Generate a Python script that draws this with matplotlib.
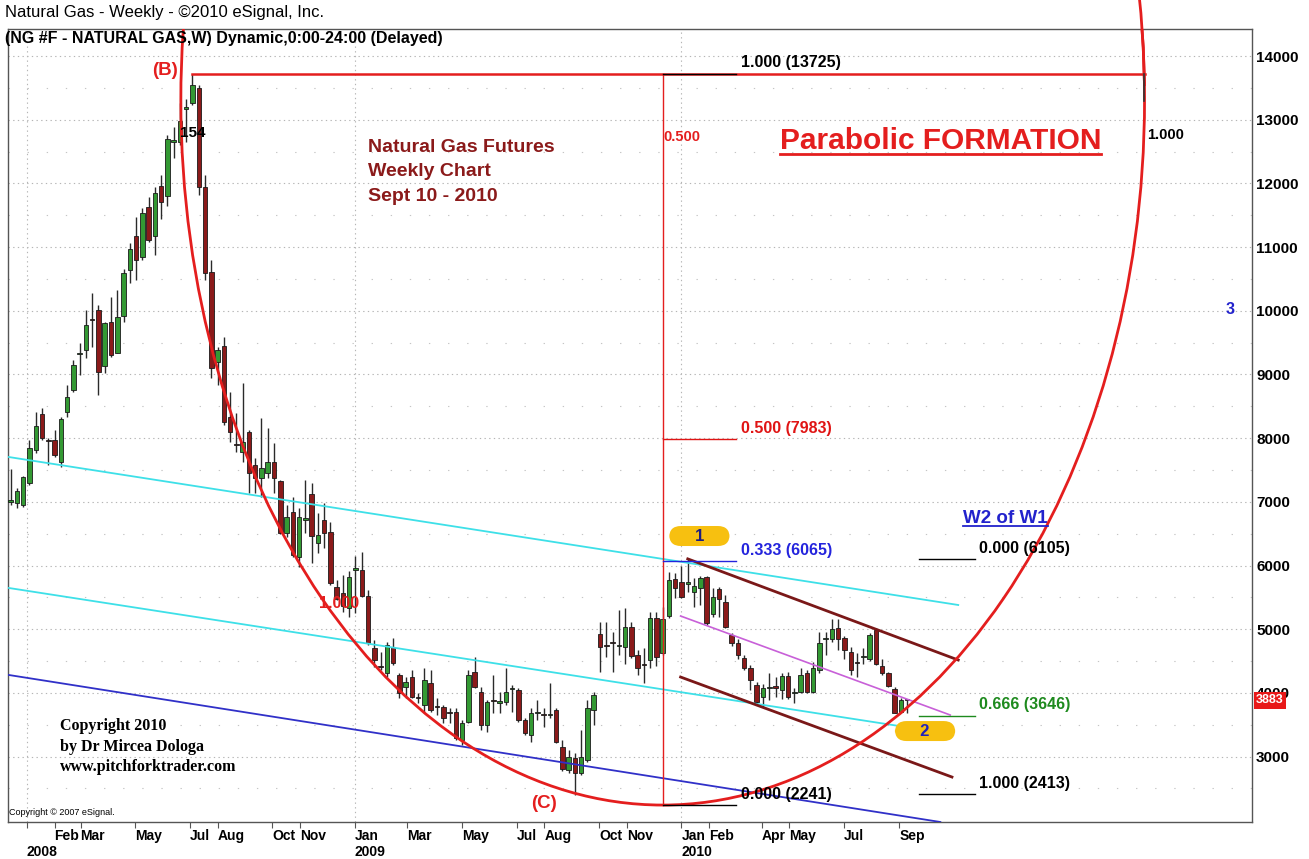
#!/usr/bin/env python
#
# Natural gas weekly futures, Dec 2007 - Sep 2010, with parabola / pitchfork
# annotations (eSignal style chart)
#
import numpy as np
import pandas as pd
import matplotlib
matplotlib.use('Agg')
import matplotlib.pyplot as plt
import matplotlib.dates as mdates
import matplotlib.transforms as mtransforms
from matplotlib.patches import Ellipse
from matplotlib.lines import Line2D
from matplotlib.ticker import FixedLocator

plt.rcParams['font.family'] = ['Liberation Sans', 'DejaVu Sans']

# Weekly bars (Friday closes), last bar 10 Sep 2010
last_bar = '2010-09-10'
opens = [
    7000, 6990, 6950, 7300, 7815, 8380, 7970, 7970, 7630, 8410,
    8760, 9320, 9385, 9870, 10010, 9135, 9825, 9340, 9920, 10640,
    11175, 10845, 11630, 11175, 11960, 11800, 12650, 12650, 13170, 13260,
    13500, 11940, 10610, 9200, 9450, 8330, 7910, 7785, 8095, 7580,
    7375, 7455, 7625, 7330, 6510, 6840, 6135, 6720, 7120, 6355,
    6715, 6525, 5665, 5570, 5335, 5930, 5930, 5520, 4705, 4420,
    4315, 4720, 4280, 4095, 4250, 3930, 3810, 4155, 3790, 3780,
    3690, 3700, 3265, 3545, 4330, 4015, 3500, 3880, 3850, 3860,
    4060, 4045, 3575, 3340, 3680, 3660, 3650, 3730, 3150, 2790,
    2980, 2745, 2950, 3735, 4925, 4750, 4790, 4730, 4720, 5035,
    4595, 4450, 4520, 5175, 4630, 5210, 5790, 5740, 5710, 5585,
    5650, 5820, 5240, 5630, 5430, 4910, 4785, 4550, 4390, 4125,
    3935, 4070, 4100, 4045, 4265, 3995, 4015, 4315, 4015, 4360,
    4840, 4850, 5020, 4860, 4645, 4480, 4560, 4535, 4990, 4425,
    4315, 4060, 3700, 3895]
highs = [
    7510, 7220, 7410, 7970, 8410, 8475, 8005, 8130, 8335, 8835,
    9230, 9495, 10010, 10280, 10090, 9825, 10215, 10325, 10655, 11065,
    11470, 11615, 11785, 11945, 12130, 12760, 12885, 13260, 13325, 13725,
    13545, 12130, 10800, 9430, 9590, 8725, 8395, 8865, 8130, 7690,
    8315, 8160, 7925, 7345, 6950, 7075, 6905, 7345, 7295, 6825,
    6980, 6685, 5775, 5850, 5915, 6150, 6215, 5615, 4830, 4645,
    4800, 4865, 4315, 4250, 4360, 4000, 4390, 4360, 3920, 3810,
    3765, 3765, 3575, 4360, 4565, 4095, 3890, 4280, 4015, 4390,
    4125, 4080, 3605, 3765, 3890, 3765, 4155, 3765, 3260, 3105,
    3055, 3420, 3890, 4015, 5115, 5115, 4955, 5300, 5335, 5115,
    4675, 4705, 5270, 5270, 5350, 5900, 5885, 5995, 6105, 5805,
    5835, 5830, 5650, 5665, 5540, 4940, 4845, 4595, 4440, 4170,
    4140, 4315, 4250, 4315, 4330, 4080, 4390, 4360, 4485, 4955,
    4955, 5160, 5160, 4895, 4720, 4625, 4705, 4940, 5020, 4535,
    4330, 4095, 3920, 3905]
lows = [
    6950, 6900, 6920, 7265, 7770, 7970, 7580, 7700, 7550, 8335,
    8725, 8990, 9260, 9430, 8680, 9020, 9275, 9335, 9825, 10435,
    10485, 10795, 11080, 10875, 11440, 11645, 12400, 12600, 12650, 13230,
    11820, 10480, 8945, 8835, 8200, 7940, 7780, 7625, 7140, 7140,
    7075, 7375, 7140, 6500, 6450, 6135, 5975, 6510, 6040, 6195,
    6275, 5700, 5460, 5270, 5190, 5255, 5500, 4750, 4410, 4360,
    4250, 4440, 3920, 3920, 3920, 3840, 3685, 3700, 3655, 3530,
    3530, 3260, 3185, 3530, 4080, 3420, 3385, 3685, 3685, 3810,
    3700, 3545, 3340, 3230, 3575, 3465, 3605, 3215, 2775, 2745,
    2400, 2710, 2915, 3500, 4330, 4565, 4330, 4595, 4455, 4550,
    4280, 4155, 4390, 4420, 4595, 5175, 5490, 5490, 5585, 5350,
    5380, 5065, 5190, 5190, 5020, 4735, 4530, 4360, 4045, 3840,
    3780, 3890, 3935, 3905, 3905, 3840, 4000, 4000, 4000, 4315,
    4595, 4800, 4675, 4535, 4280, 4250, 4455, 4500, 4440, 4280,
    4095, 3685, 3685, 3690]
closes = [
    7030, 7175, 7390, 7846, 8190, 8005, 7950, 7740, 8300, 8645,
    9150, 9340, 9775, 9850, 9040, 9805, 9305, 9900, 10590, 10970,
    10800, 11535, 11110, 11850, 11710, 12695, 12670, 12980, 13190, 13545,
    11945, 10595, 9100, 9385, 8255, 8100, 7890, 7940, 7455, 7375,
    7530, 7625, 7375, 6510, 6760, 6165, 6760, 6740, 6465, 6480,
    6510, 5730, 5475, 5365, 5820, 5950, 5520, 4785, 4520, 4400,
    4755, 4470, 4000, 4170, 3935, 3915, 4200, 3735, 3775, 3610,
    3680, 3295, 3530, 4280, 4095, 3500, 3860, 3870, 3860, 4015,
    4065, 3575, 3370, 3685, 3690, 3650, 3660, 3230, 2805, 2995,
    2745, 2995, 3765, 3970, 4720, 4735, 4780, 4745, 5035, 4580,
    4390, 4435, 5175, 4565, 5160, 5775, 5650, 5505, 5730, 5680,
    5805, 5100, 5505, 5475, 5035, 4785, 4595, 4390, 4205, 3860,
    4080, 4085, 4085, 4265, 3935, 4005, 4280, 4015, 4390, 4785,
    4850, 5005, 4850, 4675, 4360, 4465, 4570, 4910, 4455, 4315,
    4110, 3685, 3890, 3883]

# Axis labels
price_ticks = list(range(3000, 14001, 1000))
month_ticks = ['2008-02-01', '2008-03-01', '2008-05-01', '2008-07-01',
               '2008-08-01', '2008-10-01', '2008-11-01', '2009-01-01', '2009-03-01',
               '2009-05-01', '2009-07-01', '2009-08-01', '2009-10-01', '2009-11-01',
               '2010-01-01', '2010-02-01', '2010-04-01', '2010-05-01', '2010-07-01',
               '2010-09-01']
month_labels = ['Feb', 'Mar', 'May', 'Jul', 'Aug', 'Oct', 'Nov', 'Jan',
                'Mar', 'May', 'Jul', 'Aug', 'Oct', 'Nov', 'Jan', 'Feb', 'Apr',
                'May', 'Jul', 'Sep']
year_starts = ['2008-01-01', '2009-01-01', '2010-01-01']
year_labels = ['2008', '2009', '2010']

# Hand-drawn analysis: (date, price) anchors
cyan_lines = [(('2007-12-12', 7704), ('2010-11-06', 5381)),
              (('2007-12-12', 5648), ('2010-09-01', 3481))]
blue_line = (('2007-12-12', 4282), ('2010-10-17', 1974))
channel_lines = [(('2010-01-08', 6105), ('2010-11-06', 4517)),
                 (('2009-12-31', 4250), ('2010-10-30', 2680))]
median_line = (('2009-12-31', 5208), ('2010-10-28', 3654))
ellipse_center = ('2009-12-11', 13309)
ellipse_half_days = 538
ellipse_half_price = 11069
b_level = 13725
b_span = ('2008-07-04', '2011-06-03')
fib_left = [('1.000 (13725)', 13725, 'black', 'black'),
            ('0.500 (7983)', 7983, '#e01414', '#e01414'),
            ('0.333 (6065)', 6065, '#2424dd', '#2424dd'),
            ('0.000 (2241)', 2241, 'black', 'black')]
fib_right = [('0.000 (6105)', 6105, 'black', 'black'),
             ('0.666 (3646)', 3646, '#1e8a1e', '#1e8a1e'),
             ('1.000 (2413)', 2413, 'black', 'black')]

RED = '#e41e1e'
GREEN = '#339933'
DARKRED = '#8b1a1a'


def d(s):
    return mdates.datestr2num(s)


W, H = 1309, 859
fig = plt.figure(figsize=(W / 100, H / 100), dpi=100)
ax = fig.add_axes([8 / W, 37 / H, 1244 / W, 793 / H])
ax.set_xlim(d('2007-12-11'), d('2011-09-30'))
ax.set_ylim(1974, 14424)

# Grid
ax.set_yticks(price_ticks)
ax.yaxis.set_minor_locator(FixedLocator(np.arange(2500, 14001, 1000)))
ax.grid(axis='y', which='major', color='#b5b5b5', linestyle=(0, (1.2, 3)), lw=0.8)
ax.grid(axis='y', which='minor', color='#c5c5c5', linestyle=(0, (1.2, 16)), lw=0.8)
for yl in year_starts:
    ax.axvline(d(yl), color='#b5b5b5', linestyle=(0, (1.2, 3)), lw=0.8, zorder=0)

# Candles
dates = pd.date_range(end=last_bar, periods=len(closes), freq='W-FRI')
x = mdates.date2num(dates)
o, h, l, c = map(np.array, (opens, highs, lows, closes))
up = c >= o
ax.vlines(x, l, h, color='#2a2a2a', lw=1.0, zorder=3)
ax.bar(x, np.maximum(np.abs(c - o), 25), width=5, bottom=np.minimum(o, c),
       color=np.where(up, GREEN, DARKRED), edgecolor='#1a1a1a', lw=0.6, zorder=4)

# Pitchfork-ish lines
for (p0, p1) in cyan_lines:
    ax.plot([d(p0[0]), d(p1[0])], [p0[1], p1[1]], color='#3ee0e8', lw=1.3, zorder=5)
ax.plot([d(blue_line[0][0]), d(blue_line[1][0])], [blue_line[0][1], blue_line[1][1]],
        color='#3030c8', lw=1.3, zorder=5)
for (p0, p1) in channel_lines:
    ax.plot([d(p0[0]), d(p1[0])], [p0[1], p1[1]], color='#7a1818', lw=2.0, zorder=5)
ax.plot([d(median_line[0][0]), d(median_line[1][0])], [median_line[0][1], median_line[1][1]],
        color='#c860d8', lw=1.2, zorder=5)

# Parabola (ellipse) - main part clipped to the axes, top-right allowed above the frame
ell_kw = dict(width=2 * ellipse_half_days, height=2 * ellipse_half_price,
              fill=False, ec=RED, lw=2.0, zorder=6)
ax.add_patch(Ellipse((d(ellipse_center[0]), ellipse_center[1]), **ell_kw))
ell2 = Ellipse((d(ellipse_center[0]), ellipse_center[1]), **ell_kw)
ax.add_patch(ell2)
ell2.set_clip_path(None)
ell2.set_clip_box(mtransforms.TransformedBbox(
    mtransforms.Bbox([[0.6, 0.9], [1.0, 1.0]]), fig.transFigure))

# B level, C time line
ax.plot([d(b_span[0]), d(b_span[1])], [b_level, b_level], color=RED, lw=1.8, zorder=6)
ax.plot([d(ellipse_center[0])] * 2, [b_level, 2241], color=RED, lw=1.0, zorder=6)
ax.plot([d('2011-06-01')] * 2, [b_level, 13300], color='#333333', lw=1.2, zorder=6)

# Fib levels
for text, lev, lc, tc in fib_left:
    ax.plot([d('2009-12-11'), d('2010-03-03')], [lev, lev], color=lc, lw=1.0, zorder=6)
    ax.text(d('2010-03-08'), lev + 50, text, color=tc, fontsize=11.5, fontweight='bold',
            va='bottom', ha='left', zorder=7)
for text, lev, lc, tc in fib_right:
    ax.plot([d('2010-09-23'), d('2010-11-25')], [lev, lev], color=lc, lw=1.0, zorder=6)
    ax.text(d('2010-11-29'), lev + 50, text, color=tc, fontsize=11.5, fontweight='bold',
            va='bottom', ha='left', zorder=7)

# Labels
ax.text(d('2008-06-03'), 13780, '(B)', color=RED, fontsize=13.5, fontweight='bold',
        ha='center', va='center')
ax.text(d('2009-07-31'), 2272, '(C)', color=RED, fontsize=13.5, fontweight='bold',
        ha='center', va='center')
ax.text(d('2008-06-20'), 12790, '154', color='black', fontsize=11, fontweight='bold',
        ha='left', va='center', zorder=7)
ax.text(d('2009-01-16'), 12180, 'Natural Gas Futures\nWeekly Chart\nSept 10 - 2010',
        color=DARKRED, fontsize=14, fontweight='bold', ha='left', va='center', linespacing=1.55)
ax.text(d('2009-12-12'), 12729, '0.500', color=RED, fontsize=10.5, fontweight='bold',
        ha='left', va='center')
ax.text(d('2008-11-22'), 5402, '1.000', color=RED, fontsize=11.5, fontweight='bold',
        ha='left', va='center', zorder=7)
ax.text(d('2011-06-05'), 12760, '1.000', color='black', fontsize=10.5, fontweight='bold',
        ha='left', va='center')
ax.text(d('2011-09-06'), 10015, '3', color='#2222cc', fontsize=11.5, fontweight='bold',
        ha='center', va='center')
t_para = ax.text(d('2010-10-17'), 12666, 'Parabolic FORMATION', color=RED, fontsize=21.5,
                 fontweight='bold', ha='center', va='center')
t_w2 = ax.text(d('2010-12-29'), 6735, 'W2 of W1', color='#2222cc', fontsize=13.5,
               fontweight='bold', ha='center', va='center')
box = dict(boxstyle='round,pad=0.15,rounding_size=0.7', fc='#f7c010', ec='none')
ax.text(d('2010-01-21'), 6464, '     1     ', color='#1c1c80', fontsize=12,
        fontweight='bold', ha='center', va='center', bbox=box, zorder=8)
ax.text(d('2010-09-30'), 3402, '     2     ', color='#2222bb', fontsize=12,
        fontweight='bold', ha='center', va='center', bbox=box, zorder=8)

for i, line in enumerate(['Copyright 2010', 'by Dr Mircea Dologa', 'www.pitchforktrader.com']):
    ax.text(0.0418, 0.121 - i * 0.0258, line, transform=ax.transAxes, family='Liberation Serif',
            fontsize=11.5, fontweight='bold', ha='left', va='center')
ax.text(0.001, 0.0126, 'Copyright \u00a9 2007 eSignal.', transform=ax.transAxes,
        fontsize=6.5, ha='left', va='center')

# Last price marker
ax.text(1.0 + 4 / 1244, 3883, '3883', transform=ax.get_yaxis_transform(), color='white',
        fontsize=9, fontweight='bold', ha='left', va='center', clip_on=False, zorder=10,
        bbox=dict(boxstyle='square,pad=0.2', fc='#e81818', ec='none'))

# Axes styling
ax.yaxis.tick_right()
ax.tick_params(axis='y', which='both', length=0, pad=3, labelsize=11)
for lab in ax.get_yticklabels():
    lab.set_fontweight('bold')
ax.set_xticks([d(m) for m in month_ticks + ['2008-01-01']])
ax.set_xticklabels(month_labels + [''], ha='left', fontsize=10, fontweight='bold')
ax.tick_params(axis='x', length=4, pad=1, color='#555555')
for ys, yl in zip(year_starts, year_labels):
    ax.text(d(ys), -0.0375, yl, transform=ax.get_xaxis_transform(), fontsize=10,
            fontweight='bold', ha='left', va='center', clip_on=False)
for sp in ax.spines.values():
    sp.set_color('#555555')
    sp.set_linewidth(1.0)

fig.text(5 / W, 1 - 12 / H, 'Natural Gas - Weekly - \u00a92010 eSignal, Inc.', fontsize=12,
         ha='left', va='center')
fig.text(5 / W, 1 - 38 / H, '(NG #F - NATURAL GAS,W) Dynamic,0:00-24:00 (Delayed)',
         fontsize=11.5, fontweight='bold', ha='left', va='center')

# Underlines
fig.canvas.draw()
for t, col, lw in ((t_para, RED, 2.0), (t_w2, '#2222cc', 1.3)):
    bb = t.get_window_extent()
    yy = (bb.y0 + 1) / H
    fig.add_artist(Line2D([bb.x0 / W, bb.x1 / W], [yy, yy], color=col, lw=lw,
                          transform=fig.transFigure))

fig.savefig('out.png', dpi=100)
